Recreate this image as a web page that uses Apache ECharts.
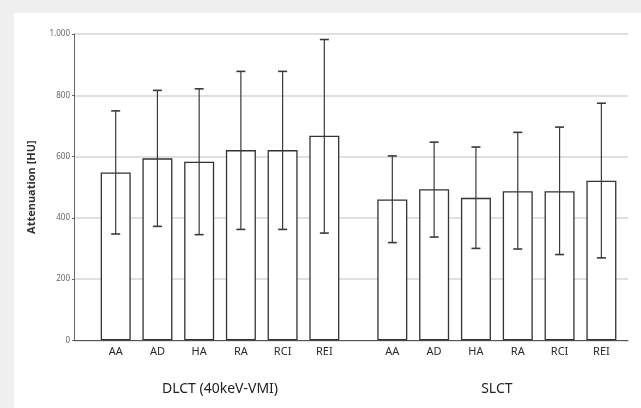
<!DOCTYPE html>
<html>
<head>
<meta charset="utf-8">
<script src="https://cdn.jsdelivr.net/npm/echarts@6/dist/echarts.min.js"></script>
<style>
html,body{margin:0;padding:0;background:#efefef;}
#wrap{position:absolute;left:0;top:0;width:641px;height:408px;background:#efefef;}
#panel{position:absolute;left:14px;top:13px;width:627px;height:395px;background:#fff;}
#chart{position:absolute;left:0;top:0;width:641px;height:408px;}
</style>
</head>
<body>
<div id="wrap"><div id="panel"></div><div id="chart"></div></div>
<script>
const categories = ['AA', 'AD', 'HA', 'RA', 'RCI', 'REI'];
const groupNames = ['DLCT (40keV-VMI)', 'SLCT'];
const dlctMean = [548, 594, 583, 621, 621, 668];
const dlctLow  = [347, 372, 345, 362, 362, 350];
const dlctHigh = [749, 816, 821, 878, 878, 982];
const slctMean = [460, 493, 465, 487, 487, 521];
const slctLow  = [319, 337, 300, 298, 280, 269];
const slctHigh = [602, 647, 631, 679, 696, 774];
const yTicks = [0, 200, 400, 600, 800, 1000];

const chart = echarts.init(document.getElementById('chart'), null, {renderer: 'canvas'});
const TOP = 34, BOTTOM = 408 - 340.3;
const font = 'Noto Sans, Open Sans, sans-serif';

function errSeries(idx, low, high) {
  return {
    type: 'custom', xAxisIndex: idx, yAxisIndex: idx, z: 5,
    data: low.map((l, i) => [i, l, high[i]]),
    renderItem: function (params, api) {
      const lo = api.coord([api.value(0), api.value(1)]);
      const hi = api.coord([api.value(0), api.value(2)]);
      const cw = 4.5;
      const st = {stroke: '#3a3a3a', lineWidth: 1.2};
      return {type: 'group', children: [
        {type: 'line', shape: {x1: lo[0], y1: lo[1], x2: hi[0], y2: hi[1]}, style: st},
        {type: 'line', shape: {x1: hi[0]-cw, y1: hi[1], x2: hi[0]+cw, y2: hi[1]}, style: {stroke:'#3a3a3a', lineWidth: 1.6}},
        {type: 'line', shape: {x1: lo[0]-cw, y1: lo[1], x2: lo[0]+cw, y2: lo[1]}, style: {stroke:'#3a3a3a', lineWidth: 1.6}}
      ]};
    }
  };
}

function catAxis(gi, name) {
  return {
    type: 'category', gridIndex: gi, data: categories,
    axisLine: {show: false}, axisTick: {show: false},
    axisLabel: {color: '#2a2a2a', fontSize: 11, fontFamily: font, margin: 6},
    name: name, nameLocation: 'middle', nameGap: 42,
    nameTextStyle: {color: '#222', fontSize: 14, fontFamily: font}
  };
}
function hiddenY(gi) {
  return {type: 'value', gridIndex: gi, min: 0, max: 1000, show: false, splitLine: {show: false}};
}

const option = {
  animation: false,
  grid: [
    {left: 74, right: 13, top: TOP, bottom: BOTTOM},
    {left: 94.84, right: 641 - 345.2, top: TOP, bottom: BOTTOM},
    {left: 371.4, right: 641 - 622.3, top: TOP, bottom: BOTTOM}
  ],
  xAxis: [
    {type: 'value', gridIndex: 0, min: 0, max: 1, axisLine: {show: true, lineStyle: {color: '#555', width: 1}},
     axisTick: {show: false}, axisLabel: {show: false}, splitLine: {show: false}},
    catAxis(1, groupNames[0]),
    catAxis(2, groupNames[1])
  ],
  yAxis: [
    {type: 'value', gridIndex: 0, min: 0, max: 1000, interval: 200,
     axisLine: {show: true, lineStyle: {color: '#666', width: 1}},
     axisTick: {show: true, length: 2, lineStyle: {color: '#666'}},
     axisLabel: {color: '#666', fontSize: 8, fontFamily: font, margin: 4,
       formatter: v => yTicks.includes(v) ? (v >= 1000 ? Math.floor(v/1000) + '.' + String(v % 1000).padStart(3, '0') : String(v)) : ''},
     splitLine: {show: true, lineStyle: {color: '#d6d6d6', width: 1.5}},
     name: 'Attenuation [HU]', nameLocation: 'middle', nameGap: 37,
     nameTextStyle: {color: '#333', fontSize: 11, fontWeight: 'bold', fontFamily: font}},
    hiddenY(1), hiddenY(2)
  ],
  series: [
    {type: 'bar', xAxisIndex: 1, yAxisIndex: 1, data: dlctMean, barWidth: 30,
     itemStyle: {color: '#fff', borderColor: '#333', borderWidth: 1.3}},
    {type: 'bar', xAxisIndex: 2, yAxisIndex: 2, data: slctMean, barWidth: 30,
     itemStyle: {color: '#fff', borderColor: '#333', borderWidth: 1.3}},
    errSeries(1, dlctLow, dlctHigh),
    errSeries(2, slctLow, slctHigh)
  ]
};
chart.setOption(option);
</script>
</body>
</html>
